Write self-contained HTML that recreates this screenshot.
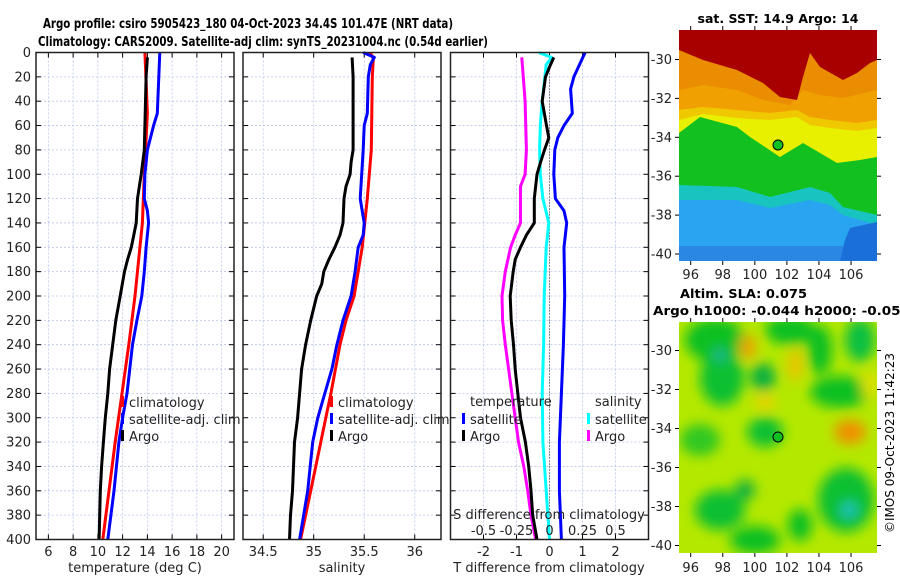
<!DOCTYPE html>
<html><head><meta charset="utf-8"><style>
body{margin:0;background:#fff;}
svg{display:block;font-family:"DejaVu Sans","Liberation Sans",sans-serif;}
</style></head><body>
<svg id="fig" width="900" height="580" viewBox="0 0 900 580" xmlns="http://www.w3.org/2000/svg">
<defs>
<filter id="blur7" x="-30%" y="-30%" width="160%" height="160%"><feGaussianBlur stdDeviation="6"/></filter>
<clipPath id="clipSST"><rect x="679" y="30" width="198" height="231"/></clipPath>
<clipPath id="clipSLA"><rect x="679" y="322" width="198" height="231"/></clipPath>
</defs>
<g font-weight="bold" font-size="13" text-anchor="middle" fill="#000">
<text x="248" y="28" textLength="410" lengthAdjust="spacingAndGlyphs">Argo profile: csiro 5905423_180 04-Oct-2023 34.4S 101.47E (NRT data)</text>
<text x="263" y="46" textLength="450" lengthAdjust="spacingAndGlyphs">Climatology: CARS2009. Satellite-adj clim: synTS_20231004.nc (0.54d earlier)</text>
</g>
<g id="panels"></g>

<!-- SST map -->
<g clip-path="url(#clipSST)">
<rect x="679" y="30" width="198" height="231" fill="#28a4f0"/>
<rect x="679" y="246" width="198" height="15" fill="#2a88e4"/>
<path d="M679,200 L737,200 L770,208 L810,200 L830,205 L843,215 L877,225 L877,100 L679,100Z" fill="#18c4c0"/>
<path d="M850,228 L877,222 L877,261 L840,261 L845,240Z" fill="#1a6fd8"/>
<path d="M679,185 L737,187 L770,197 L810,187 L830,193 L843,207 L877,215 L877,100 L679,100Z" fill="#12c020"/>
<path d="M679,133 L700,117 L737,127 L750,137 L780,157 L803,143 L820,153 L837,163 L860,160 L877,157 L877,30 L679,30Z" fill="#e8f000"/>
<path d="M679,120 L703,114 L737,118 L770,120 L797,117 L810,125 L830,128 L857,131 L877,128 L877,30 L679,30Z" fill="#f0c800"/>
<path d="M679,110 L703,107 L737,110 L770,113 L797,110 L810,117 L830,120 L857,123 L877,120 L877,30 L679,30Z" fill="#f0a000"/>
<path d="M679,90 L703,85 L737,90 L763,100 L790,105 L803,90 L820,95 L843,98 L877,90 L877,30 L679,30Z" fill="#e88000" opacity="0.6"/>
<path d="M679,50 L703,60 L737,70 L763,83 L780,97 L797,100 L803,77 L810,53 L820,67 L843,80 L857,73 L870,63 L877,60 L877,30 L679,30Z" fill="#a80000"/>
</g>
<circle cx="778" cy="145" r="5" fill="#10c020" stroke="#000" stroke-width="1"/>
<text x="778" y="23" font-size="12.5" font-weight="bold" text-anchor="middle">sat. SST: 14.9 Argo: 14</text>

<!-- SLA map -->
<g clip-path="url(#clipSLA)">
<rect x="679" y="322" width="198" height="231" fill="#b4e800"/>
<g filter="url(#blur7)">
<ellipse cx="715" cy="340" rx="30" ry="22" fill="#10c020"/>
<ellipse cx="722" cy="378" rx="22" ry="28" fill="#10c030"/>
<ellipse cx="790" cy="330" rx="25" ry="15" fill="#10c020"/>
<ellipse cx="763" cy="377" rx="13" ry="14" fill="#10b040"/>
<ellipse cx="820" cy="350" rx="12" ry="25" fill="#10c020"/>
<ellipse cx="860" cy="340" rx="15" ry="22" fill="#10c040"/>
<ellipse cx="840" cy="392" rx="30" ry="16" fill="#10c020"/>
<ellipse cx="765" cy="432" rx="18" ry="15" fill="#10c030"/>
<ellipse cx="700" cy="440" rx="20" ry="16" fill="#30c820"/>
<ellipse cx="720" cy="510" rx="25" ry="20" fill="#10c030"/>
<ellipse cx="755" cy="540" rx="25" ry="14" fill="#10c020"/>
<ellipse cx="745" cy="490" rx="10" ry="10" fill="#10b040"/>
<ellipse cx="846" cy="500" rx="28" ry="32" fill="#10c030"/>
<ellipse cx="800" cy="525" rx="12" ry="16" fill="#10c020"/>
<ellipse cx="748" cy="347" rx="8" ry="12" fill="#f0a000"/>
<ellipse cx="795" cy="365" rx="7" ry="16" fill="#f0c000"/>
<ellipse cx="850" cy="432" rx="16" ry="12" fill="#f09000"/>
<ellipse cx="765" cy="402" rx="10" ry="7" fill="#f0d000"/>
<ellipse cx="870" cy="385" rx="8" ry="14" fill="#e0e000"/>
<ellipse cx="720" cy="355" rx="6" ry="6" fill="#20b0a0"/>
<ellipse cx="849" cy="510" rx="8" ry="8" fill="#20c0c0"/>
</g>
</g>
<circle cx="778" cy="437" r="5" fill="#10c020" stroke="#000" stroke-width="1"/>
<text x="680" y="298" font-size="12.5" font-weight="bold" textLength="127" lengthAdjust="spacingAndGlyphs">Altim. SLA: 0.075</text>
<text x="653" y="315" font-size="12.5" font-weight="bold" textLength="257" lengthAdjust="spacingAndGlyphs">Argo h1000: -0.044 h2000: -0.054</text>
<text transform="translate(894,443) rotate(-90)" font-size="12" text-anchor="middle">©IMOS 09-Oct-2023 11:42:23</text>
<g id="mapaxes"></g>

<script>
// ---- data ----
const depthTicks=[0,20,40,60,80,100,120,140,160,180,200,220,240,260,280,300,320,340,360,380,400];
const tempTicks=[6,8,10,12,14,16,18,20];
const salTicks=[34.5,35,35.5,36];
const salTickLabels=["34.5","35","35.5","36"];
const tdiffTicks=[-2,-1,0,1,2];
const sdiffTicks=[-0.5,-0.25,0,0.25,0.5];
const sdiffTickLabels=["-0.5","-0.25","0","0.25","0.5"];
const lonTicks=[96,98,100,102,104,106];
const latTicks=[-30,-32,-34,-36,-38,-40];

const climTempDepth=[0,50,100,140,160,200,240,280,320,360,400];
const climTemp=[13.8,14.0,13.75,13.6,13.4,13.0,12.5,11.95,11.4,10.9,10.4];
const satTempDepth=[0,50,60,80,100,120,130,140,160,180,200,220,240,280,300,320,360,400];
const satTemp=[15.0,14.8,14.5,14.0,13.8,13.75,14.0,14.1,13.9,13.75,13.55,13.15,12.8,12.35,12.0,11.7,11.3,10.8];
const argoTempDepth=[4,20,40,60,80,100,120,140,150,160,170,180,200,220,240,260,280,300,320,340,360,380,400];
const argoTemp=[14.0,13.9,13.85,13.8,13.75,13.5,13.2,13.1,12.9,12.7,12.4,12.15,11.8,11.45,11.2,10.95,10.8,10.6,10.45,10.3,10.2,10.15,10.1];

const climSalDepth=[0,5,20,80,120,160,200,220,240,280,300,320,360,400];
const climSal=[35.56,35.59,35.58,35.57,35.53,35.48,35.40,35.32,35.26,35.17,35.12,35.07,34.97,34.87];
const satSalDepth=[0,4,10,20,50,60,80,120,140,150,160,180,200,220,240,260,280,300,320,360,400];
const satSal=[35.49,35.60,35.56,35.54,35.53,35.5,35.49,35.46,35.5,35.49,35.44,35.41,35.37,35.29,35.23,35.18,35.11,35.04,34.99,34.94,34.86];
const argoSalDepth=[4,20,80,90,100,110,120,140,150,160,170,180,190,200,220,240,260,280,300,320,340,360,380,400];
const argoSal=[35.38,35.39,35.39,35.37,35.36,35.32,35.30,35.29,35.26,35.21,35.15,35.1,35.08,35.03,34.97,34.92,34.88,34.86,34.84,34.81,34.8,34.79,34.77,34.76];

const satTdiffDepth=[0,20,30,50,60,70,80,100,120,130,140,160,200,240,280,320,360,400];
const satTdiff=[1.08,0.74,0.64,0.69,0.44,0.25,0.16,0.13,0.18,0.44,0.52,0.44,0.46,0.42,0.36,0.3,0.3,0.36];
const argoTdiffDepth=[4,10,20,40,60,70,80,90,100,120,140,150,160,170,180,200,220,240,260,280,300,320,340,360,380,400];
const argoTdiff=[0.13,0.03,-0.12,-0.22,-0.09,-0.02,-0.15,-0.27,-0.38,-0.46,-0.46,-0.7,-0.88,-1.04,-1.1,-1.19,-1.16,-1.09,-1.04,-0.96,-0.88,-0.73,-0.63,-0.56,-0.51,-0.38];
const satSdiffDepth=[0,4,10,40,60,80,100,120,140,160,200,240,280,320,360,400];
const satSdiff=[-0.08,0.015,-0.025,-0.055,-0.07,-0.075,-0.07,-0.05,-0.005,-0.025,-0.04,-0.045,-0.055,-0.05,-0.025,0];
const argoSdiffDepth=[4,40,80,100,110,140,150,160,180,200,220,240,260,280,300,320,340,360,380,400];
const argoSdiff=[-0.21,-0.185,-0.175,-0.185,-0.22,-0.22,-0.26,-0.295,-0.335,-0.36,-0.355,-0.335,-0.31,-0.285,-0.26,-0.235,-0.195,-0.165,-0.14,-0.105];

// ---- helpers ----
const NS="http://www.w3.org/2000/svg";
const root=document.getElementById('panels');
function mk(tag,attrs,parent){const e=document.createElementNS(NS,tag);for(const k in attrs)e.setAttribute(k,attrs[k]);(parent||root).appendChild(e);return e;}
const top0=52.5,bot0=539.5;
const yD=d=>top0+(bot0-top0)*d/400;
function lin(d0,d1,r0,r1){return v=>r0+(v-d0)*(r1-r0)/(d1-d0);}

function panel(name,x0,x1,xs,ticks,labels,showDepth){
  const g=mk('g',{});
  
  
  ticks.forEach(t=>{const l=mk('line',{x1:xs(t),x2:xs(t),y1:top0,y2:bot0,stroke:'#b8c4e8','stroke-width':0.8,'stroke-dasharray':'2,2'},g);
    });
  depthTicks.forEach(d=>{const l=mk('line',{x1:x0,x2:x1,y1:yD(d),y2:yD(d),stroke:'#b8c4e8','stroke-width':0.8,'stroke-dasharray':'2,2'},g);
    
    mk('line',{x1:x0,x2:x0+5,y1:yD(d),y2:yD(d),stroke:'#000'},g);
    mk('line',{x1:x1-5,x2:x1,y1:yD(d),y2:yD(d),stroke:'#000'},g);
    if(showDepth){const t=mk('text',{x:x0-5,y:yD(d)+4.5,'font-size':13,'text-anchor':'end',fill:'#222'},g);t.textContent=d;
      }
  });
  ticks.forEach((t,i)=>{mk('line',{x1:xs(t),x2:xs(t),y1:bot0-5,y2:bot0,stroke:'#000'},g);
    mk('line',{x1:xs(t),x2:xs(t),y1:top0,y2:top0+5,stroke:'#000'},g);
    const tx=mk('text',{x:xs(t),y:556,'font-size':13,'text-anchor':'middle',fill:'#222'},g);tx.textContent=labels[i];
    });
  return g;
}
function line(g,name,xs,vals,depths,color){
  const p=mk('polyline',{points:vals.map((v,i)=>xs(v).toFixed(1)+','+yD(depths[i]).toFixed(1)).join(' '),fill:'none',stroke:color,'stroke-width':3,'stroke-linejoin':'round'},g);
  
  
}
function frame(g,x0,x1){mk('rect',{x:x0,y:top0,width:x1-x0,height:bot0-top0,fill:'none',stroke:'#222','stroke-width':1.5},g);}
function legend(g,x,items,nameBase){
  items.forEach((it,i)=>{const y=402+i*17;
    const m=mk('rect',{x:x,y:y-6,width:3,height:11,fill:it[1]},g);
    
    const t=mk('text',{x:x+8,y:y+5,'font-size':13,fill:'#222'},g);t.textContent=it[0];
    });
}

// temperature panel
const xT=lin(5,21,36,234);
const g1=panel('temperature-panel',36,234,xT,tempTicks,tempTicks.map(String),true);
line(g1,'temp-climatology-line',xT,climTemp,climTempDepth,'#ff0000');
line(g1,'temp-satellite-line',xT,satTemp,satTempDepth,'#0000ff');
line(g1,'temp-argo-line',xT,argoTemp,argoTempDepth,'#000000');
frame(g1,36,234);
legend(g1,121,[['climatology','#ff0000'],['satellite-adj. clim','#0000ff'],['Argo','#000']],'temp-legend');
let t=mk('text',{x:135,y:572,'font-size':13,'text-anchor':'middle',fill:'#222'},g1);t.textContent='temperature (deg C)';


// salinity panel
const xS=lin(34.3,36.26,243,441);
const g2=panel('salinity-panel',243,441,xS,salTicks,salTickLabels,false);
line(g2,'sal-climatology-line',xS,climSal,climSalDepth,'#ff0000');
line(g2,'sal-satellite-line',xS,satSal,satSalDepth,'#0000ff');
line(g2,'sal-argo-line',xS,argoSal,argoSalDepth,'#000000');
frame(g2,243,441);
legend(g2,330,[['climatology','#ff0000'],['satellite-adj. clim','#0000ff'],['Argo','#000']],'sal-legend');
t=mk('text',{x:342,y:572,'font-size':13,'text-anchor':'middle',fill:'#222'},g2);t.textContent='salinity';


// difference panel
const xTd=lin(-3,3,450.5,648.5);
const xSd=lin(-0.75,0.75,450.5,648.5);
const g3=panel('difference-panel',450.5,648.5,xTd,tdiffTicks,tdiffTicks.map(String),false);
mk('line',{x1:xTd(0),x2:xTd(0),y1:top0,y2:bot0,stroke:'#333','stroke-width':1,'stroke-dasharray':'1,2'},g3);
line(g3,'sdiff-argo-line',xSd,argoSdiff,argoSdiffDepth,'#ff00ff');
line(g3,'sdiff-satellite-line',xSd,satSdiff,satSdiffDepth,'#00ffff');
line(g3,'tdiff-argo-line',xTd,argoTdiff,argoTdiffDepth,'#000000');
line(g3,'tdiff-satellite-line',xTd,satTdiff,satTdiffDepth,'#0000ff');
frame(g3,450.5,648.5);
t=mk('text',{x:470,y:406,'font-size':13,fill:'#222'},g3);t.textContent='temperature';

t=mk('text',{x:595,y:406,'font-size':13,fill:'#222'},g3);t.textContent='salinity';

(function(){const items=[['satellite','#0000ff',462,0],['Argo','#000',462,1],['satellite','#00ffff',587,0],['Argo','#ff00ff',587,1]];
 items.forEach(it=>{const y=419+it[3]*17;
  const m=mk('rect',{x:it[2],y:y-6,width:3,height:11,fill:it[1]},g3);
  
  const tx=mk('text',{x:it[2]+8,y:y+5,'font-size':13,fill:'#222'},g3);tx.textContent=it[0];
  });})();
t=mk('text',{x:549,y:519,'font-size':13,'text-anchor':'middle',fill:'#222'},g3);t.textContent='S difference from climatology';

sdiffTicks.forEach((v,i)=>{const tx=mk('text',{x:xSd(v),y:535,'font-size':13,'text-anchor':'middle',fill:'#222'},g3);tx.textContent=sdiffTickLabels[i];
  });
t=mk('text',{x:549,y:572,'font-size':13,'text-anchor':'middle',fill:'#222'},g3);t.textContent='T difference from climatology';


// map axes
const ma=document.getElementById('mapaxes');
const xLon=lin(95.27,107.62,679,877);
function mapAxes(name,yTop,yBot,latY,labelY){
  const g=mk('g',{},ma);
  
  
  lonTicks.forEach(l=>{mk('line',{x1:xLon(l),x2:xLon(l),y1:yBot,y2:yBot+4,stroke:'#000'},g);
    mk('line',{x1:xLon(l),x2:xLon(l),y1:yTop-4,y2:yTop,stroke:'#000'},g);
    const tx=mk('text',{x:xLon(l),y:labelY,'font-size':13,'text-anchor':'middle',fill:'#222'},g);tx.textContent=l;
    });
  latTicks.forEach(l=>{const y=latY(l);
    mk('line',{x1:675,x2:679,y1:y,y2:y,stroke:'#000'},g);
    mk('line',{x1:877,x2:881,y1:y,y2:y,stroke:'#000'},g);
    const tx=mk('text',{x:672,y:y+4.5,'font-size':13,'text-anchor':'end',fill:'#222'},g);tx.textContent=l;
    });
}
mapAxes('sst-map-axes',30,261,lin(-30,-40,59.5,254),279);
mapAxes('sla-map-axes',322,553,lin(-30,-40,350.5,545.5),572);
</script>
</svg>
</body></html>
